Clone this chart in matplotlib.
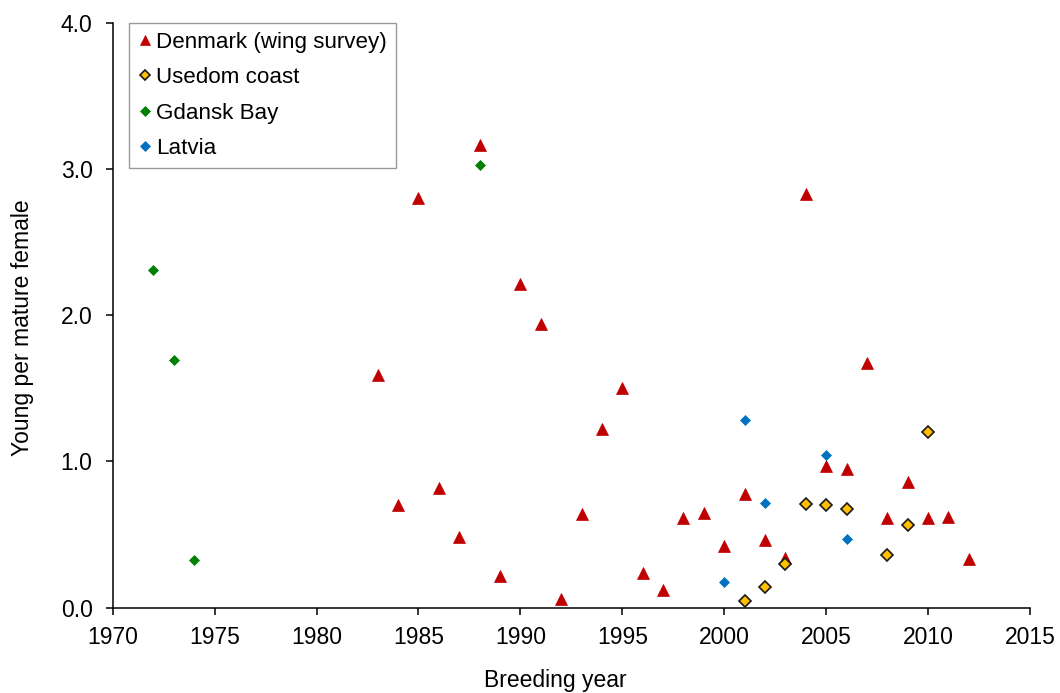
import matplotlib
matplotlib.use("Agg")
import matplotlib.pyplot as plt
from matplotlib.ticker import FormatStrFormatter

plt.rcParams['font.family'] = ['Liberation Sans', 'DejaVu Sans']

# Denmark (wing survey)
dk_years = [1983, 1984, 1985, 1986, 1987, 1988, 1989, 1990, 1991, 1992, 1993, 1994,
            1995, 1996, 1997, 1998, 1999, 2000, 2001, 2002, 2003, 2004, 2005, 2006,
            2007, 2008, 2009, 2010, 2011, 2012]
dk_values = [1.59, 0.70, 2.80, 0.82, 0.48, 3.16, 0.22, 2.21, 1.94, 0.06, 0.64, 1.22,
             1.50, 0.24, 0.12, 0.61, 0.65, 0.42, 0.78, 0.465, 0.34, 2.83, 0.966, 0.95,
             1.67, 0.61, 0.86, 0.615, 0.62, 0.33]

# Usedom coast
us_years = [2001, 2002, 2003, 2004, 2005, 2006, 2008, 2009, 2010]
us_values = [0.048, 0.14, 0.30, 0.71, 0.70, 0.675, 0.36, 0.563, 1.20]

# Gdansk Bay
gd_years = [1972, 1973, 1974, 1988]
gd_values = [2.306, 1.69, 0.326, 3.026]

# Latvia
lv_years = [2000, 2001, 2002, 2005, 2006]
lv_values = [0.178, 1.28, 0.716, 1.044, 0.47]

x_ticks = [1970, 1975, 1980, 1985, 1990, 1995, 2000, 2005, 2010, 2015]
y_ticks = [0.0, 1.0, 2.0, 3.0, 4.0]

fig = plt.figure(figsize=(10.6, 6.93), dpi=100)
ax = fig.add_axes([0.1063, 0.1231, 0.8654, 0.8444])

ax.plot(dk_years, dk_values, linestyle='none', marker='^', markersize=8,
        color='#C00000', markeredgecolor='#C00000', markeredgewidth=0.5,
        label='Denmark (wing survey)', zorder=3)
ax.plot(us_years, us_values, linestyle='none', marker='D', markersize=6.2,
        markerfacecolor='#FFC000', markeredgecolor='#1a1a1a', markeredgewidth=1.2,
        label='Usedom coast', zorder=4)
ax.plot(gd_years, gd_values, linestyle='none', marker='D', markersize=5.4,
        color='#008000', markeredgecolor='#008000', markeredgewidth=0.5,
        label='Gdansk Bay', zorder=3)
ax.plot(lv_years, lv_values, linestyle='none', marker='D', markersize=5.4,
        color='#0070C0', markeredgecolor='#0070C0', markeredgewidth=0.5,
        label='Latvia', zorder=3)

ax.set_xlim(1970, 2015)
ax.set_ylim(0, 4.0)
ax.set_xticks(x_ticks)
ax.set_yticks(y_ticks)
ax.yaxis.set_major_formatter(FormatStrFormatter('%.1f'))

for s in ['top', 'right']:
    ax.spines[s].set_visible(False)
for s in ['left', 'bottom']:
    ax.spines[s].set_linewidth(1.1)
    ax.spines[s].set_color('black')

ax.tick_params(axis='both', direction='out', length=5, width=1.1,
               labelsize=16.5, colors='black')
ax.tick_params(axis='y', pad=9.5)
ax.tick_params(axis='x', pad=8.1)

ax.set_xlabel('Breeding year', fontsize=16.5)
ax.set_ylabel('Young per mature female', fontsize=16.5)
ax.xaxis.set_label_coords(0.482, -0.1048)
ax.yaxis.set_label_coords(-0.0858, 0.478)

leg = ax.legend(loc='upper left', bbox_to_anchor=(0.0178, 1.0), borderaxespad=0,
                fontsize=16.1, frameon=True, fancybox=False, handlelength=0.6,
                handletextpad=0.2, labelspacing=0.64, borderpad=0.42, markerscale=0.9)
leg.get_frame().set_edgecolor('#808080')
leg.get_frame().set_linewidth(1.0)

fig.savefig('out.png', dpi=100)
